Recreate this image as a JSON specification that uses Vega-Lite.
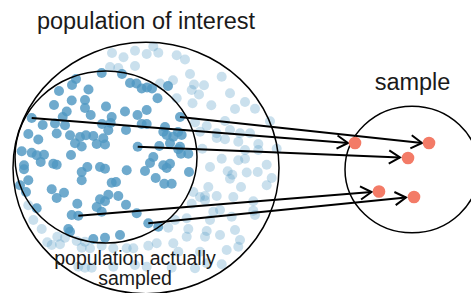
{
  "$schema": "https://vega.github.io/schema/vega-lite/v6.json",
  "width": 471,
  "height": 293,
  "padding": 0,
  "autosize": {"type": "fit", "contains": "padding"},
  "background": "white",
  "config": {"view": {"stroke": null}, "axis": {"disable": true}},
  "datasets": {
    "dots": [
      {"x":101.7,"y":73,"sampled":true},{"x":122,"y":74,"sampled":true},{"x":76,"y":79,"sampled":true},{"x":72,"y":85,"sampled":true},{"x":59,"y":91,"sampled":true},{"x":88.5,"y":89.5,"sampled":true},{"x":130,"y":83,"sampled":true},{"x":136.5,"y":83.5,"sampled":true},{"x":141.7,"y":88.5,"sampled":true},{"x":147,"y":87.5,"sampled":true},{"x":152,"y":88.5,"sampled":true},{"x":168,"y":86,"sampled":true},{"x":157.5,"y":98.3,"sampled":true},{"x":71.7,"y":100.5,"sampled":true},{"x":85,"y":100,"sampled":true},{"x":54,"y":105,"sampled":true},{"x":106,"y":106.5,"sampled":true},{"x":85,"y":108,"sampled":true},{"x":66.7,"y":111.5,"sampled":true},{"x":125,"y":111.5,"sampled":true},{"x":137.5,"y":115,"sampled":true},{"x":146.7,"y":110,"sampled":true},{"x":62.7,"y":117,"sampled":true},{"x":90.7,"y":115,"sampled":true},{"x":111.7,"y":117,"sampled":true},{"x":31.7,"y":118,"sampled":true},{"x":42.7,"y":125,"sampled":true},{"x":55,"y":123.5,"sampled":true},{"x":65,"y":125.3,"sampled":true},{"x":102,"y":124,"sampled":true},{"x":110.7,"y":123,"sampled":true},{"x":126,"y":130,"sampled":true},{"x":141.7,"y":124,"sampled":true},{"x":146.7,"y":124,"sampled":true},{"x":165,"y":127,"sampled":true},{"x":163.3,"y":131.7,"sampled":true},{"x":166.7,"y":135,"sampled":true},{"x":173.3,"y":136.7,"sampled":true},{"x":181.7,"y":135,"sampled":true},{"x":178,"y":132,"sampled":true},{"x":180,"y":117,"sampled":true},{"x":28.3,"y":134,"sampled":true},{"x":38.3,"y":139.5,"sampled":true},{"x":56.7,"y":133.5,"sampled":true},{"x":70,"y":135.3,"sampled":true},{"x":80,"y":137,"sampled":true},{"x":86,"y":135.3,"sampled":true},{"x":93.3,"y":136,"sampled":true},{"x":103.3,"y":138.3,"sampled":true},{"x":108.3,"y":130.3,"sampled":true},{"x":75,"y":143.3,"sampled":true},{"x":81.7,"y":146.5,"sampled":true},{"x":96.7,"y":144,"sampled":true},{"x":105,"y":144.5,"sampled":true},{"x":137.7,"y":146.7,"sampled":true},{"x":170,"y":143.3,"sampled":true},{"x":180,"y":146.7,"sampled":true},{"x":159.3,"y":146,"sampled":true},{"x":178.3,"y":149.3,"sampled":true},{"x":181,"y":153.7,"sampled":true},{"x":188.3,"y":153.7,"sampled":true},{"x":153.3,"y":157,"sampled":true},{"x":150,"y":163,"sampled":true},{"x":163.3,"y":165.3,"sampled":true},{"x":170,"y":163.7,"sampled":true},{"x":166.7,"y":168,"sampled":true},{"x":155.7,"y":178,"sampled":true},{"x":164.3,"y":183.7,"sampled":true},{"x":171.7,"y":183.7,"sampled":true},{"x":189,"y":172,"sampled":true},{"x":145,"y":171,"sampled":true},{"x":21.7,"y":151.3,"sampled":true},{"x":31.7,"y":152.7,"sampled":true},{"x":36.7,"y":155.3,"sampled":true},{"x":44,"y":154.7,"sampled":true},{"x":40.7,"y":162,"sampled":true},{"x":71,"y":155,"sampled":true},{"x":24,"y":165.3,"sampled":true},{"x":24,"y":169.3,"sampled":true},{"x":53.3,"y":163.7,"sampled":true},{"x":56.7,"y":164.7,"sampled":true},{"x":87.3,"y":167,"sampled":true},{"x":100,"y":167,"sampled":true},{"x":105,"y":168.7,"sampled":true},{"x":126.7,"y":170.3,"sampled":true},{"x":81.7,"y":172,"sampled":true},{"x":28.3,"y":180.3,"sampled":true},{"x":81.7,"y":180.3,"sampled":true},{"x":111.7,"y":182.7,"sampled":true},{"x":116,"y":182,"sampled":true},{"x":20,"y":185.3,"sampled":true},{"x":26,"y":192,"sampled":true},{"x":51.7,"y":189.3,"sampled":true},{"x":64,"y":192.7,"sampled":true},{"x":56.7,"y":198,"sampled":true},{"x":100,"y":199.3,"sampled":true},{"x":108.3,"y":194.7,"sampled":true},{"x":118.3,"y":196,"sampled":true},{"x":105,"y":201.3,"sampled":true},{"x":126,"y":204.7,"sampled":true},{"x":77.3,"y":203.7,"sampled":true},{"x":96.7,"y":207,"sampled":true},{"x":136.7,"y":213.3,"sampled":true},{"x":36.7,"y":208.3,"sampled":true},{"x":71.7,"y":215,"sampled":true},{"x":78.3,"y":215.7,"sampled":true},{"x":101.7,"y":211.7,"sampled":true},{"x":68.3,"y":229,"sampled":true},{"x":70,"y":231.7,"sampled":true},{"x":93.3,"y":239,"sampled":true},{"x":105,"y":237.7,"sampled":true},{"x":120,"y":235,"sampled":true},{"x":148.3,"y":223.3,"sampled":true},{"x":158.3,"y":226.7,"sampled":true},
      {"x":112,"y":53,"sampled":false},{"x":123.5,"y":57.3,"sampled":false},{"x":135,"y":50.7,"sampled":false},{"x":146.7,"y":54,"sampled":false},{"x":153.3,"y":46.5,"sampled":false},{"x":158.3,"y":52.7,"sampled":false},{"x":176.7,"y":55.3,"sampled":false},{"x":185,"y":59.5,"sampled":false},{"x":110,"y":67,"sampled":false},{"x":118.3,"y":68,"sampled":false},{"x":135,"y":66,"sampled":false},{"x":160,"y":83.5,"sampled":false},{"x":173,"y":80.3,"sampled":false},{"x":190,"y":74,"sampled":false},{"x":191.7,"y":90,"sampled":false},{"x":194,"y":84.5,"sampled":false},{"x":204,"y":85.2,"sampled":false},{"x":221.7,"y":76.7,"sampled":false},{"x":230,"y":93.3,"sampled":false},{"x":199,"y":94.5,"sampled":false},{"x":211.3,"y":105.3,"sampled":false},{"x":192.5,"y":103.2,"sampled":false},{"x":176.7,"y":98.2,"sampled":false},{"x":206.7,"y":126,"sampled":false},{"x":200,"y":131.7,"sampled":false},{"x":216.7,"y":133.3,"sampled":false},{"x":230,"y":130,"sampled":false},{"x":235,"y":109,"sampled":false},{"x":245,"y":102,"sampled":false},{"x":255,"y":108.7,"sampled":false},{"x":225,"y":121,"sampled":false},{"x":195,"y":122.5,"sampled":false},{"x":270,"y":121.3,"sampled":false},{"x":240,"y":133.3,"sampled":false},{"x":250,"y":133.3,"sampled":false},{"x":238.3,"y":141.7,"sampled":false},{"x":258.3,"y":144,"sampled":false},{"x":216.7,"y":138,"sampled":false},{"x":225,"y":139.3,"sampled":false},{"x":202.3,"y":148.7,"sampled":false},{"x":221.7,"y":158.7,"sampled":false},{"x":238.3,"y":160.3,"sampled":false},{"x":245,"y":158.7,"sampled":false},{"x":266.7,"y":164.7,"sampled":false},{"x":210,"y":167,"sampled":false},{"x":227.7,"y":171.3,"sampled":false},{"x":232.3,"y":174.7,"sampled":false},{"x":246.7,"y":172.5,"sampled":false},{"x":257.7,"y":172,"sampled":false},{"x":271.7,"y":178,"sampled":false},{"x":230,"y":178.7,"sampled":false},{"x":241,"y":187,"sampled":false},{"x":266.7,"y":185.3,"sampled":false},{"x":193.3,"y":192,"sampled":false},{"x":208.3,"y":187,"sampled":false},{"x":200,"y":197,"sampled":false},{"x":205,"y":196,"sampled":false},{"x":205,"y":200.3,"sampled":false},{"x":216.7,"y":196,"sampled":false},{"x":233.3,"y":197,"sampled":false},{"x":253.3,"y":201.3,"sampled":false},{"x":191.7,"y":203.7,"sampled":false},{"x":276.7,"y":148.7,"sampled":false},{"x":245,"y":150,"sampled":false},{"x":258.3,"y":150,"sampled":false},{"x":253.3,"y":210.7,"sampled":false},{"x":255,"y":215,"sampled":false},{"x":235,"y":230,"sampled":false},{"x":240,"y":240,"sampled":false},{"x":238.3,"y":246.7,"sampled":false},{"x":213.3,"y":211.7,"sampled":false},{"x":220,"y":210,"sampled":false},{"x":231.7,"y":216.7,"sampled":false},{"x":186.7,"y":218.3,"sampled":false},{"x":175,"y":220,"sampled":false},{"x":168.3,"y":227.7,"sampled":false},{"x":188.3,"y":229,"sampled":false},{"x":186.7,"y":236.7,"sampled":false},{"x":206.7,"y":231,"sampled":false},{"x":205,"y":236.7,"sampled":false},{"x":220,"y":235,"sampled":false},{"x":156.7,"y":243.3,"sampled":false},{"x":148.3,"y":245.7,"sampled":false},{"x":178.3,"y":251.7,"sampled":false},{"x":200,"y":251.7,"sampled":false},{"x":221.7,"y":264.3,"sampled":false},{"x":195,"y":268.3,"sampled":false},{"x":171.7,"y":267.7,"sampled":false},{"x":173.3,"y":243.3,"sampled":false},{"x":210,"y":220,"sampled":false},{"x":206.7,"y":263.3,"sampled":false},{"x":226.7,"y":250,"sampled":false},{"x":33.3,"y":220,"sampled":false},{"x":41.7,"y":229,"sampled":false},{"x":57.3,"y":236.7,"sampled":false},{"x":65,"y":237.7,"sampled":false},{"x":47.3,"y":242.3,"sampled":false},{"x":51.7,"y":245,"sampled":false},{"x":60,"y":244.3,"sampled":false},{"x":76.7,"y":241,"sampled":false},{"x":81.7,"y":247.7,"sampled":false},{"x":101.7,"y":245.7,"sampled":false},{"x":113.3,"y":248.3,"sampled":false},{"x":126.7,"y":248.3,"sampled":false},{"x":133.3,"y":248.3,"sampled":false},{"x":78.3,"y":266.7,"sampled":false},{"x":85,"y":267.7,"sampled":false},{"x":91.7,"y":267.7,"sampled":false},{"x":113.3,"y":266.7,"sampled":false},{"x":135,"y":265,"sampled":false},{"x":146.7,"y":266.7,"sampled":false},{"x":90,"y":248.3,"sampled":false},{"x":85,"y":241.7,"sampled":false},{"x":28.3,"y":205.3,"sampled":false}
    ],
    "circles": [
      {"name": "population of interest", "x": 146, "y": 168, "r": 133},
      {"name": "population actually sampled", "x": 106, "y": 157, "r": 91},
      {"name": "sample", "x": 412, "y": 169.5, "r": 67}
    ],
    "arrows": [
      {"x": 31.7, "y": 118, "x2": 348, "y2": 143},
      {"x": 180, "y": 117, "x2": 422, "y2": 143},
      {"x": 137.7, "y": 146.7, "x2": 400, "y2": 157.5},
      {"x": 78.3, "y": 215.7, "x2": 371.5, "y2": 192},
      {"x": 148.3, "y": 223.3, "x2": 406, "y2": 197.5}
    ],
    "sample": [
      {"x": 355, "y": 143}, {"x": 429, "y": 143}, {"x": 408, "y": 158}, {"x": 379, "y": 191.5}, {"x": 414, "y": 197}
    ],
    "titles": [
      {"label": "population of interest", "x": 146, "y": 29},
      {"label": "sample", "x": 412.5, "y": 90}
    ],
    "notes": [
      {"label": "population actually", "x": 135, "y": 265},
      {"label": "sampled", "x": 135, "y": 285}
    ]
  },
  "layer": [
    {
      "data": {"name": "dots"},
      "transform": [{"filter": "!datum.sampled"}],
      "mark": {"type": "point", "shape": "circle", "filled": true, "size": 100, "color": "#4F97C2", "opacity": 0.3, "strokeWidth": 0},
      "encoding": {
        "x": {"field": "x", "type": "quantitative", "scale": {"domain": [0, 471], "nice": false, "zero": false}, "axis": null},
        "y": {"field": "y", "type": "quantitative", "scale": {"domain": [0, 293], "nice": false, "zero": false, "reverse": true}, "axis": null}
      }
    },
    {
      "data": {"name": "dots"},
      "transform": [{"filter": "datum.sampled"}],
      "mark": {"type": "point", "shape": "circle", "filled": true, "size": 100, "color": "#4F97C2", "opacity": 0.82, "strokeWidth": 0},
      "encoding": {
        "x": {"field": "x", "type": "quantitative"},
        "y": {"field": "y", "type": "quantitative"}
      }
    },
    {
      "data": {"name": "circles"},
      "mark": {"type": "point", "shape": "M-1,0A1,0.945,0,1,0,1,0A1,0.945,0,1,0,-1,0Z", "filled": false, "fill": null, "stroke": "black", "strokeWidth": 1.5, "opacity": 1, "clip": true},
      "encoding": {
        "x": {"field": "x", "type": "quantitative"},
        "y": {"field": "y", "type": "quantitative"},
        "size": {"field": "r", "type": "quantitative", "scale": {"type": "pow", "exponent": 2, "domain": [0, 200], "range": [0, 160000]}, "legend": null}
      }
    },
    {
      "data": {"name": "arrows"},
      "mark": {"type": "rule", "color": "black", "strokeWidth": 2},
      "encoding": {
        "x": {"field": "x", "type": "quantitative"},
        "y": {"field": "y", "type": "quantitative"},
        "x2": {"field": "x2"},
        "y2": {"field": "y2"}
      }
    },
    {
      "data": {"name": "arrows"},
      "transform": [{"calculate": "atan2(datum.y2 - datum.y, datum.x2 - datum.x) * 180 / PI", "as": "heading"}],
      "mark": {"type": "point", "shape": "M-1,-0.6L0,0L-1,0.6", "filled": false, "size": 484, "stroke": "black", "strokeWidth": 2, "opacity": 1, "strokeJoin": "miter"},
      "encoding": {
        "x": {"field": "x2", "type": "quantitative"},
        "y": {"field": "y2", "type": "quantitative"},
        "angle": {"field": "heading", "type": "quantitative", "scale": null}
      }
    },
    {
      "data": {"name": "sample"},
      "mark": {"type": "point", "shape": "circle", "filled": true, "size": 160, "color": "#F37B67", "opacity": 1, "strokeWidth": 0},
      "encoding": {
        "x": {"field": "x", "type": "quantitative"},
        "y": {"field": "y", "type": "quantitative"}
      }
    },
    {
      "data": {"name": "titles"},
      "mark": {"type": "text", "font": "Liberation Sans", "fontSize": 23.5, "color": "#1a1a1a", "align": "center", "baseline": "alphabetic"},
      "encoding": {
        "x": {"field": "x", "type": "quantitative"},
        "y": {"field": "y", "type": "quantitative"},
        "text": {"field": "label"}
      }
    },
    {
      "data": {"name": "notes"},
      "mark": {"type": "text", "font": "Liberation Sans", "fontSize": 19.5, "color": "#1a1a1a", "align": "center", "baseline": "alphabetic"},
      "encoding": {
        "x": {"field": "x", "type": "quantitative"},
        "y": {"field": "y", "type": "quantitative"},
        "text": {"field": "label"}
      }
    }
  ],
  "resolve": {"scale": {"size": "independent"}}
}
